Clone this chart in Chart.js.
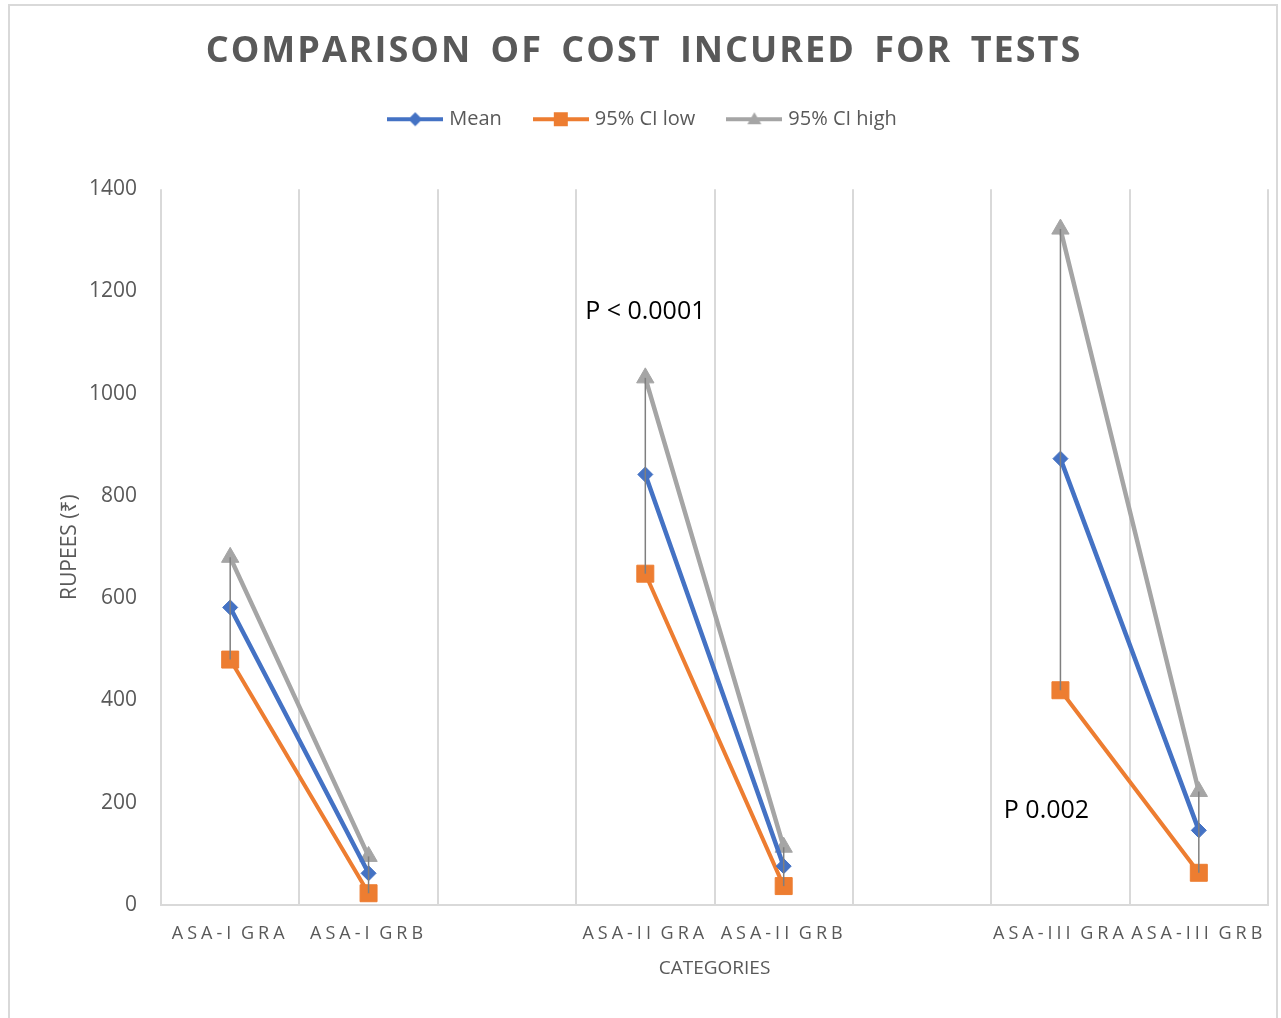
<!DOCTYPE html>
<html>
<head>
<meta charset="utf-8">
<title>Comparison of cost incured for tests</title>
<script src="https://cdn.jsdelivr.net/npm/chart.js@4.4.1/dist/chart.umd.min.js"></script>
<style>
  html, body { margin: 0; padding: 0; background: #fff; }
  canvas { display: block; }
</style>
</head>
<body>
<canvas id="myChart" width="1281" height="1018"></canvas>
<script>
// categories (blank entries are the gaps between the ASA groups)
const categories = ['ASA-I GRA', 'ASA-I GRB', '', 'ASA-II GRA', 'ASA-II GRB', '', 'ASA-III GRA', 'ASA-III GRB'];

// cost in rupees
const meanCost = [582, 62, null, 842, 76, null, 873, 146];
const ciLow    = [480, 23, null, 648, 37, null, 420, 63];
const ciHigh   = [680, 95, null, 1031, 113, null, 1322, 222];

const yTicks = [0, 200, 400, 600, 800, 1000, 1200, 1400];

const notes = [
    { text: 'P < 0.0001', index: 3, value: 1160, dx: 0 },
    { text: 'P 0.002', index: 6, value: 184, dx: -14 },
];

const FONT = "'Open Sans', 'Noto Sans', sans-serif";
const GREY_TEXT = '#595959';

function legendIcon(color, shape) {
    const c = document.createElement('canvas');
    c.width = 56;
    c.height = 20;
    const g = c.getContext('2d');
    g.strokeStyle = color;
    g.lineWidth = 4;
    g.beginPath();
    g.moveTo(0, 10);
    g.lineTo(56, 10);
    g.stroke();
    g.fillStyle = color;
    g.beginPath();
    if (shape === 'diamond') {
        g.moveTo(28, 3); g.lineTo(35, 10); g.lineTo(28, 17); g.lineTo(21, 10);
    } else if (shape === 'square') {
        g.rect(21, 3, 14, 14);
    } else {
        g.moveTo(28, 3); g.lineTo(35, 15); g.lineTo(21, 15);
    }
    g.closePath();
    g.fill();
    return c;
}

const icons = [
    legendIcon('#4472C4', 'diamond'),
    legendIcon('#ED7D31', 'square'),
    legendIcon('#A5A5A5', 'triangle'),
];

// white page + thin frame round the chart
const frame = {
    id: 'frame',
    beforeDraw(chart) {
        const ctx = chart.ctx;
        ctx.save();
        ctx.fillStyle = '#fff';
        ctx.fillRect(0, 0, chart.width, chart.height);
        ctx.strokeStyle = '#d9d9d9';
        ctx.lineWidth = 2;
        ctx.strokeRect(9, 5, 1268, 1030);
        ctx.restore();
    }
};

// letter spacing for the title and the x labels
const spacing = {
    id: 'spacing',
    beforeDraw(chart) {
        const t = chart.titleBlock;
        if (t && !t._spaced) {
            const orig = t.draw;
            t.draw = function (area) {
                const c = this.ctx;
                c.save();
                c.letterSpacing = '2px';
                c.wordSpacing = '7px';
                orig.call(this, area);
                c.restore();
            };
            t._spaced = true;
        }
        const x = chart.scales.x;
        if (x && !x._spaced) {
            const origLabels = x.drawLabels;
            x.drawLabels = function (area) {
                const c = this.ctx;
                c.save();
                c.letterSpacing = '4px';
                c.wordSpacing = '-3px';
                origLabels.call(this, area);
                c.restore();
            };
            x._spaced = true;
        }
    }
};

// high-low lines
const highLow = {
    id: 'highLow',
    afterDatasetsDraw(chart) {
        const { ctx, scales: { x, y } } = chart;
        ctx.save();
        ctx.strokeStyle = '#7f7f7f';
        ctx.lineWidth = 1.5;
        ciHigh.forEach((hi, i) => {
            const lo = ciLow[i];
            if (hi == null || lo == null) return;
            const px = x.getPixelForValue(i);
            ctx.beginPath();
            ctx.moveTo(px, y.getPixelForValue(hi));
            ctx.lineTo(px, y.getPixelForValue(lo));
            ctx.stroke();
        });
        ctx.restore();
    }
};

const pNotes = {
    id: 'pNotes',
    afterDraw(chart) {
        const { ctx, scales: { x, y } } = chart;
        ctx.save();
        ctx.fillStyle = '#000';
        ctx.font = '25px ' + FONT;
        ctx.textAlign = 'center';
        ctx.textBaseline = 'middle';
        notes.forEach(n => {
            ctx.fillText(n.text, x.getPixelForValue(n.index) + n.dx, y.getPixelForValue(n.value));
        });
        ctx.restore();
    }
};

const data = {
    labels: categories,
    datasets: [{
        label: 'Mean',
        data: meanCost,
        borderColor: '#4472C4',
        backgroundColor: '#4472C4',
        borderWidth: 4.5,
        pointStyle: 'rectRot',
        pointRadius: 7.5,
        pointBorderWidth: 1,
    }, {
        label: '95% CI low',
        data: ciLow,
        borderColor: '#ED7D31',
        backgroundColor: '#ED7D31',
        borderWidth: 4,
        pointStyle: 'rect',
        pointRadius: 12,
        pointBorderWidth: 1,
    }, {
        label: '95% CI high',
        data: ciHigh,
        borderColor: '#A5A5A5',
        backgroundColor: '#A5A5A5',
        borderWidth: 4.5,
        pointStyle: 'triangle',
        pointRadius: 10,
        pointBorderWidth: 1,
    }]
};

const config = {
    type: 'line',
    data: data,
    options: {
        responsive: false,
        animation: false,
        spanGaps: false,
        layout: { padding: { top: 30, right: 11, bottom: 0, left: 18 } },
        plugins: {
            title: {
                display: true,
                text: 'COMPARISON OF COST INCURED FOR TESTS',
                color: GREY_TEXT,
                font: { family: FONT, size: 36, weight: 'bold', lineHeight: 1.2 },
                padding: { top: 0, bottom: 1 },
            },
            subtitle: {
                display: true,
                text: '',
                weight: 500,
                font: { size: 1, lineHeight: 1 },
                padding: { top: 49, bottom: 0 },
            },
            legend: {
                labels: {
                    usePointStyle: true,
                    pointStyleWidth: 48,
                    padding: 35,
                    color: GREY_TEXT,
                    font: { family: FONT, size: 20 },
                    generateLabels: (chart) => chart.data.datasets.map((ds, i) => ({
                        text: ds.label,
                        pointStyle: icons[i],
                        fontColor: GREY_TEXT,
                        fillStyle: 'transparent',
                        strokeStyle: 'transparent',
                        lineWidth: 0,
                        hidden: false,
                        datasetIndex: i,
                    })),
                },
            },
            tooltip: { enabled: false },
        },
        scales: {
            x: {
                offset: true,
                grid: { color: '#d9d9d9', lineWidth: 2, offset: true, drawTicks: false },
                border: { color: '#d9d9d9', width: 2 },
                ticks: {
                    color: GREY_TEXT,
                    font: { family: FONT, size: 18 },
                    padding: 18,
                    maxRotation: 0,
                    autoSkip: false,
                },
                title: {
                    display: true,
                    text: 'CATEGORIES',
                    color: GREY_TEXT,
                    font: { family: FONT, size: 19, lineHeight: 1.2 },
                    padding: { top: 0, bottom: 38 },
                },
                afterFit: (s) => { s.height = 113; },
            },
            y: {
                min: 0,
                max: 1400,
                afterBuildTicks: (s) => { s.ticks = yTicks.map(v => ({ value: v })); },
                grid: { display: false },
                border: { display: false },
                ticks: {
                    color: GREY_TEXT,
                    font: { family: FONT, size: 21 },
                    padding: 16,
                    callback: (v) => String(v),
                },
                title: {
                    display: true,
                    text: 'RUPEES (₹)',
                    color: GREY_TEXT,
                    font: { family: FONT, size: 21, lineHeight: 1.2 },
                    padding: { top: 39, bottom: 0 },
                },
                afterFit: (s) => { s.width = 143; },
            },
        },
    },
    plugins: [frame, spacing, highLow, pNotes],
};

const myChart = new Chart(
    document.getElementById('myChart'),
    config
);
</script>
</body>
</html>
